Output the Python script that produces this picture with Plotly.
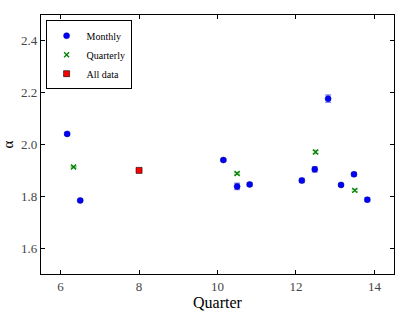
import plotly.graph_objects as go

monthly_x = [6.167, 6.5, 10.15, 10.5, 10.82, 12.15, 12.48, 12.82, 13.15, 13.48, 13.82]
monthly_y = [2.041, 1.784, 1.940, 1.838, 1.846, 1.861, 1.904, 2.177, 1.844, 1.885, 1.787]
monthly_err = [0.005, 0.005, 0.005, 0.012, 0.006, 0.008, 0.010, 0.014, 0.005, 0.007, 0.007]

quarterly_x = [6.33, 10.5, 12.5, 13.5]
quarterly_y = [1.913, 1.888, 1.971, 1.823]
quarterly_err = [0.003, 0.004, 0.006, 0.004]

all_x = [8.0]
all_y = [1.900]
all_err = [0.004]

x_ticks = [6, 8, 10, 12, 14]
y_ticks = [1.6, 1.8, 2.0, 2.2, 2.4]

font_family = "Liberation Serif, DejaVu Serif, serif"

fig = go.Figure()
fig.add_trace(go.Scatter(
    x=monthly_x, y=monthly_y, mode="markers", name="Monthly",
    marker=dict(symbol="circle", size=6, color="#0000ff", line=dict(color="#000080", width=0.5)),
    error_y=dict(type="data", array=monthly_err, color="rgba(0,0,255,0.45)", thickness=1.5, width=3),
))
fig.add_trace(go.Scatter(
    x=quarterly_x, y=quarterly_y, mode="markers", name="Quarterly",
    marker=dict(symbol="x-thin", size=5, color="#008000", line=dict(color="#008000", width=1.3)),
    error_y=dict(type="data", array=quarterly_err, color="rgba(0,128,0,0.45)", thickness=1.5, width=3),
))
fig.add_trace(go.Scatter(
    x=all_x, y=all_y, mode="markers", name="All data",
    marker=dict(symbol="square", size=6, color="#ff0000", line=dict(color="#000000", width=0.6)),
    error_y=dict(type="data", array=all_err, color="rgba(255,0,0,0.45)", thickness=1.5, width=3),
))

axis_common = dict(
    showgrid=False, zeroline=False, showline=True, linecolor="black", linewidth=1.2,
    mirror="ticks", ticks="inside", ticklen=4, tickwidth=0.8, tickcolor="black",
    tickfont=dict(family=font_family, size=13, color="#444444"),
    automargin=False,
)
fig.update_xaxes(range=[5.5, 14.5], tickvals=x_ticks, ticktext=[str(v) for v in x_ticks],
                 title=dict(text="Quarter", font=dict(family=font_family, size=16, color="black"), standoff=4),
                 **axis_common)
fig.update_yaxes(range=[1.5, 2.5], tickvals=y_ticks, ticktext=[f"{v:.1f}" for v in y_ticks],
                 title=dict(text="α", font=dict(family=font_family, size=15, color="black"), standoff=4),
                 **axis_common)

fig.update_layout(
    width=415, height=312,
    margin=dict(l=41, r=21, t=15, b=38),
    plot_bgcolor="white", paper_bgcolor="white",
    showlegend=True,
    legend=dict(x=0.013, y=0.98, xanchor="left", yanchor="top",
                bordercolor="black", borderwidth=1, bgcolor="white",
                font=dict(family=font_family, size=10, color="black"),
                tracegroupgap=0, itemwidth=30),
)

fig.write_html("out.html", config={"displayModeBar": False},
               post_script="document.body.style.margin='0';document.body.style.overflow='hidden';")
